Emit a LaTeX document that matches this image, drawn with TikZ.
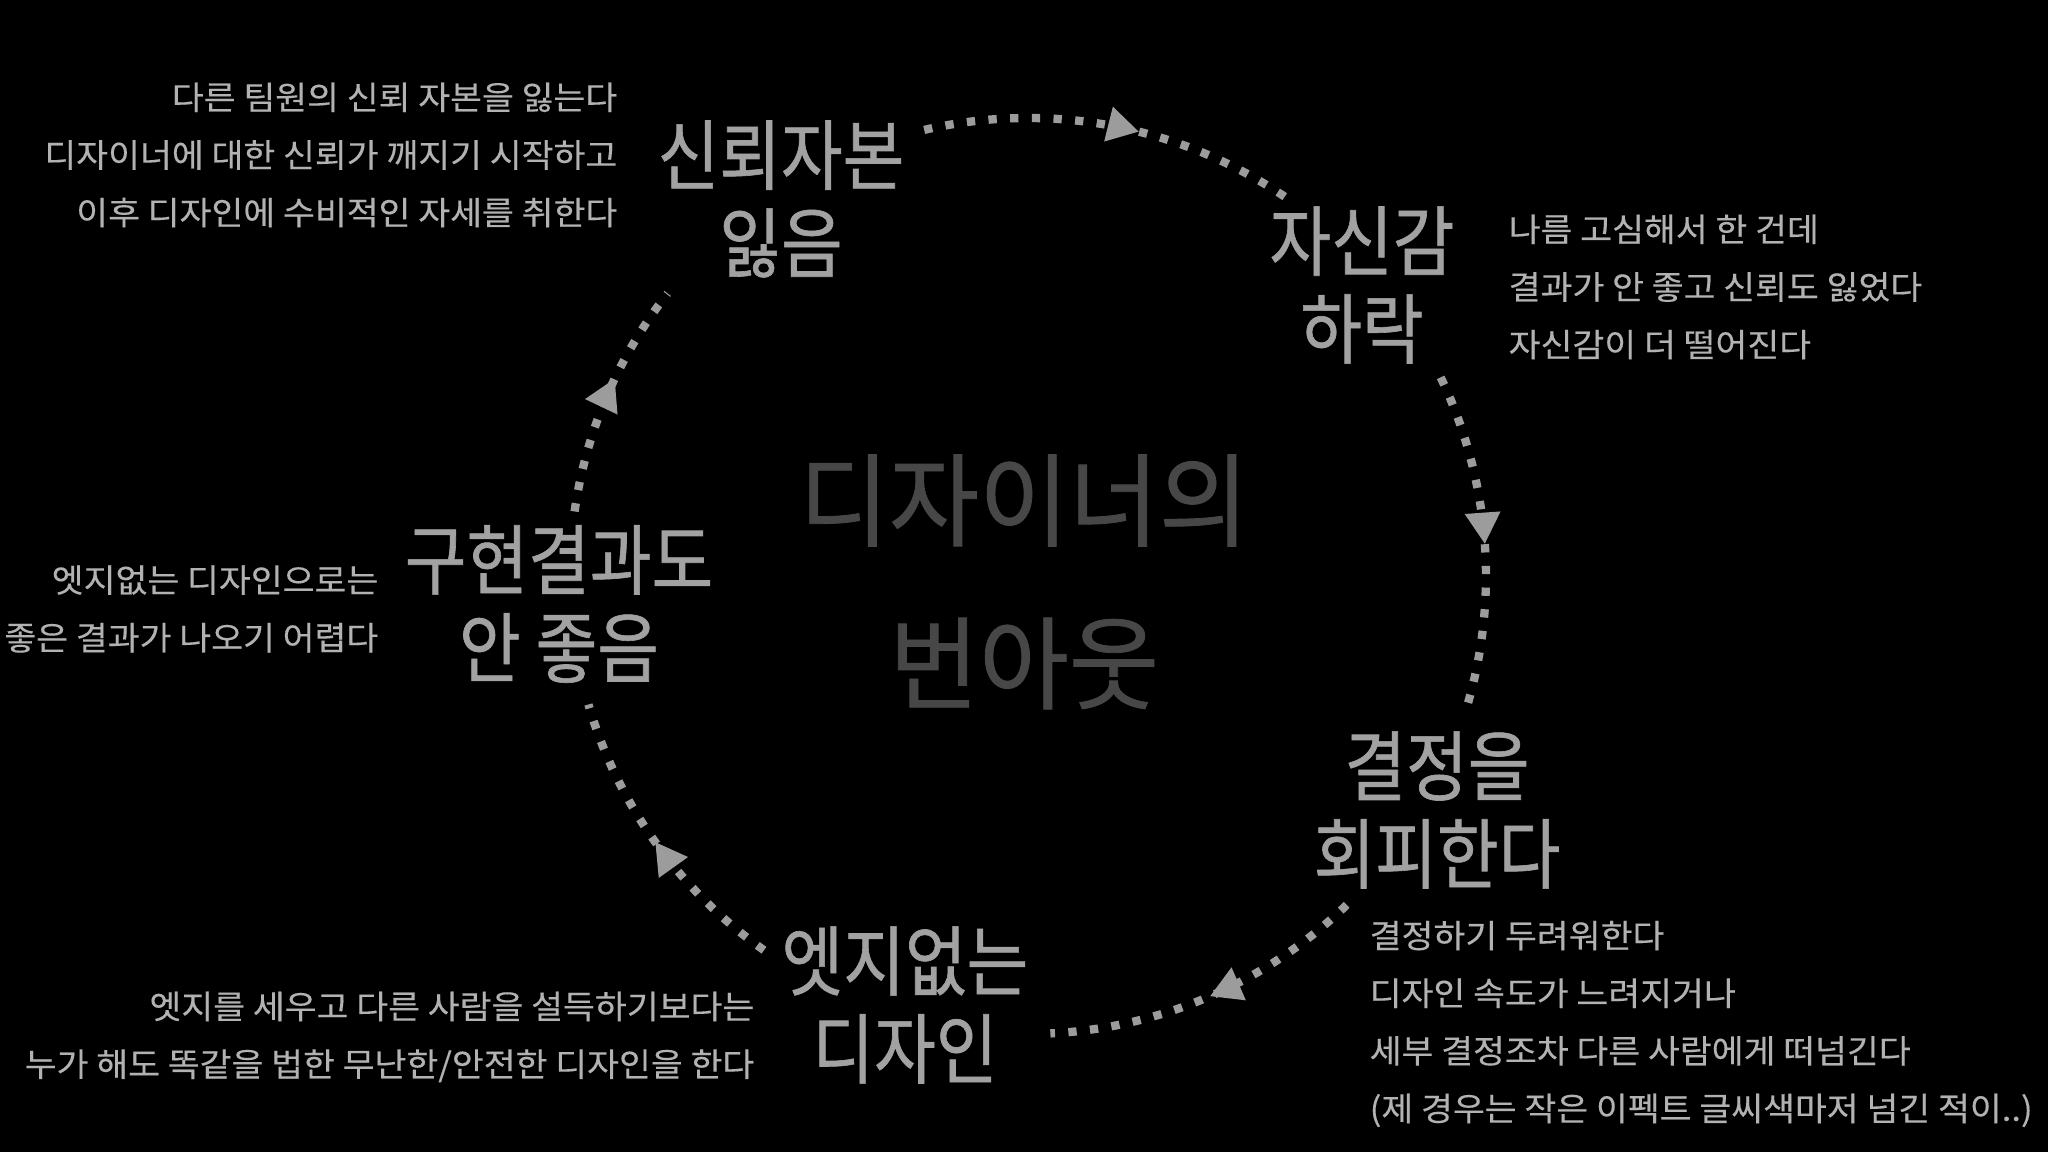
\documentclass[tikz,border=0pt]{standalone}
\usepackage{fontspec}
\setmainfont{Noto Sans CJK KR}[FakeStretch=1.06, FakeBold=0.3]
\newfontfamily\stagefont{Noto Sans CJK KR}[FakeStretch=0.875, FakeBold=0.8]
\newfontfamily\titlefont{Noto Sans CJK KR}[FakeStretch=0.966, FakeBold=0.8]
\usetikzlibrary{arrows.meta,decorations.markings,calc}
\definecolor{stagegray}{HTML}{A2A2A2}
\definecolor{notegray}{HTML}{B2B2B2}
\definecolor{dotgray}{HTML}{9C9C9C}
\definecolor{titlegray}{HTML}{474747}

\begin{document}
\begin{tikzpicture}[stage/.style={text=stagegray, align=center, inner sep=0pt, font=\stagefont\fontsize{21.8}{25}\selectfont},
	note/.style={text=notegray, inner sep=0pt, font=\fontsize{9.3}{16.4}\selectfont},
	loop/.style={dotgray, line width=0.083cm, dash pattern=on 0.083cm off 0.134cm, postaction={decorate},
		decoration={markings, mark=at position #1 with {\arrow{Triangle[length=0.31cm, width=0.36cm, line width=0pt]}}}},
	loop/.default=0.5]
			\fill[black] (0,0) rectangle (20.48,11.52);
			\useasboundingbox (0,0) rectangle (20.48,11.52);
			\coordinate (hub) at (10.28,5.76);
			\node[text=titlegray, align=center, inner sep=0pt, font=\titlefont\fontsize{28.8}{46.4}\selectfont] (burnout) at (10.24,5.70) {디자이너의\\번아웃};
			\node[stage] (trust) at (7.81,9.53) {신뢰자본\\잃음};
			\node[stage] (drop) at (13.62,8.67) {자신감\\하락};
			\node[stage] (avoid) at (14.37,3.42) {결정을\\회피한다};
			\node[stage] (edgeless) at (9.05,1.47) {엣지없는\\디자인};
			\node[stage] (result) at (5.59,5.48) {구현결과도\\안 좋음};
			\node[note, anchor=east, align=right] (trustnote) at (6.18,9.97) {다른 팀원의 신뢰 자본을 잃는다\\디자이너에 대한 신뢰가 깨지기 시작하고\\이후 디자인에 수비적인 자세를 취한다};
			\node[note, anchor=west, align=left] (dropnote) at (15.08,8.65) {나름 고심해서 한 건데\\결과가 안 좋고 신뢰도 잃었다\\자신감이 더 떨어진다};
			\node[note, anchor=west, align=left] (avoidnote) at (13.69,1.28) {결정하기 두려워한다\\디자인 속도가 느려지거나\\세부 결정조차 다른 사람에게 떠넘긴다\\(제 경우는 작은 이펙트 글씨색마저 넘긴 적이..)};
			\node[note, anchor=east, align=right] (resultnote) at (3.79,5.43) {엣지없는 디자인으로는\\좋은 결과가 나오기 어렵다};
			\node[note, anchor=east, align=right] (edgenote) at (7.55,1.15) {엣지를 세우고 다른 사람을 설득하기보다는\\누가 해도 똑같을 법한 무난한/안전한 디자인을 한다};
			\coordinate (p1) at ($(hub)+(103.1:4.58)$);
			\coordinate (p2) at ($(hub)+(25.7:4.58)$);
			\coordinate (p3) at ($(hub)+(-45.9:4.58)$);
			\coordinate (p4) at ($(hub)+(234.8:4.58)$);
			\coordinate (p5) at ($(hub)+(171.9:4.58)$);
			\draw[loop=0.57] (p1) arc[start angle=103.1, end angle=55.6, radius=4.58];
			\draw[loop=0.5] (p2) arc[start angle=25.7, end angle=-17.6, radius=4.58];
			\draw[loop=0.5] (p3) arc[start angle=-45.9, end angle=-87.2, radius=4.58];
			\draw[loop=0.5] (p4) arc[start angle=234.8, end angle=196.3, radius=4.58];
			\draw[loop=0.58] (p5) arc[start angle=171.9, end angle=141.9, radius=4.58];
\end{tikzpicture}
\end{document}
